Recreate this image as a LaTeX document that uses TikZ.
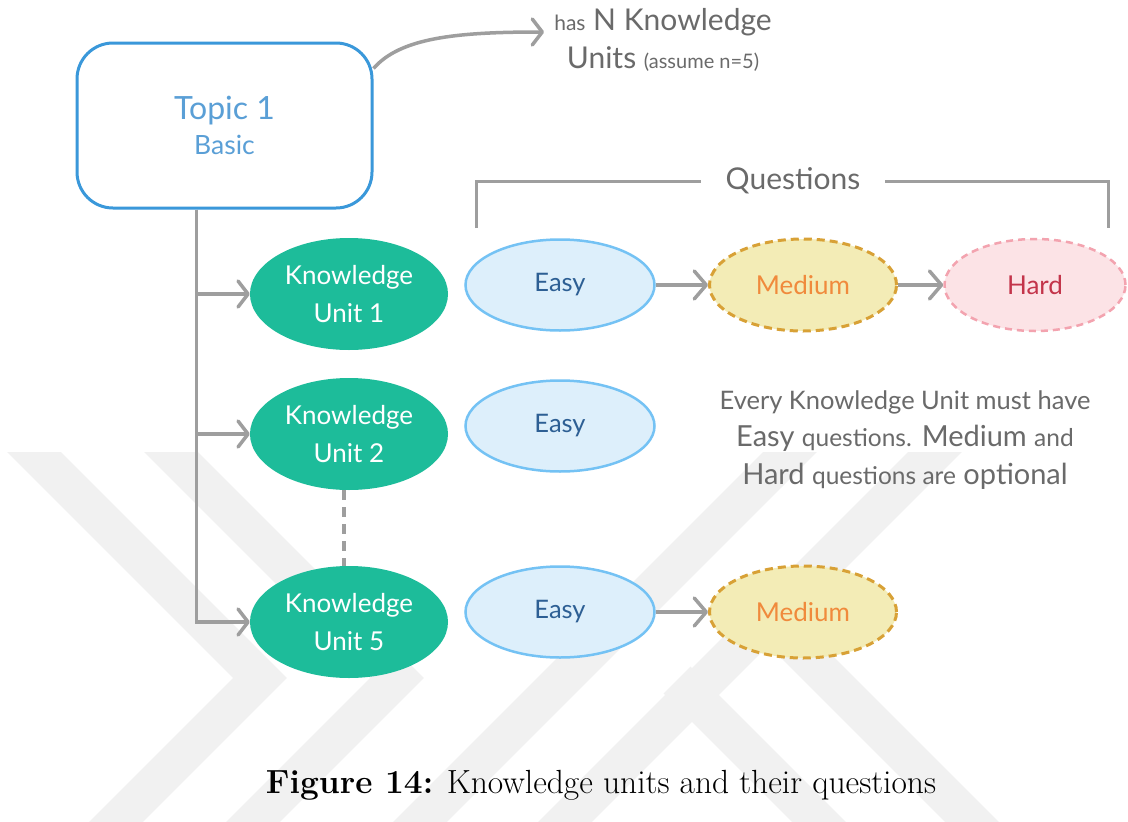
\documentclass[tikz,border=0pt]{standalone}
\usepackage{fontspec}
\newfontfamily\lato{Lato}
\usetikzlibrary{shapes.geometric,arrows.meta,calc}

\definecolor{linegray}{HTML}{9E9E9E}
\definecolor{textgray}{HTML}{6A6A6A}
\definecolor{wmgray}{HTML}{F1F1F1}
\definecolor{topicblue}{HTML}{3A98DA}
\definecolor{topictext}{HTML}{5A9FD6}
\definecolor{kugreen}{HTML}{1DBC9A}
\definecolor{easyfill}{HTML}{DDEFFB}
\definecolor{easyline}{HTML}{74C2F4}
\definecolor{easytext}{HTML}{2D5F94}
\definecolor{medfill}{HTML}{F3ECB6}
\definecolor{medline}{HTML}{D8A136}
\definecolor{medtext}{HTML}{F08A3C}
\definecolor{hardfill}{HTML}{FCE3E6}
\definecolor{hardline}{HTML}{F3A3AF}
\definecolor{hardtext}{HTML}{C3344A}

\newcommand{\fsz}[1]{\fontsize{#1}{#1}\selectfont}

\tikzset{
  wmband/.style={draw=wmgray, line width=38pt, line join=miter},
  topicbox/.style={draw=topicblue, line width=3pt, rounded corners=36pt, fill=white,
    minimum width=295pt, minimum height=165pt, align=center, text=topictext, font=\lato},
  kunode/.style={ellipse, fill=kugreen, minimum width=198pt, minimum height=112pt,
    inner sep=0pt, align=center, text=white, font=\lato\fsz{26}},
  easynode/.style={ellipse, fill=easyfill, draw=easyline, line width=2.5pt,
    minimum width=189pt, minimum height=91pt, inner sep=0pt, text=easytext, font=\lato\fsz{25.5}},
  mednode/.style={ellipse, fill=medfill, draw=medline, line width=3pt,
    dash pattern=on 8pt off 5pt, minimum width=187pt, minimum height=92pt,
    inner sep=0pt, text=medtext, font=\lato\fsz{26}},
  hardnode/.style={ellipse, fill=hardfill, draw=hardline, line width=2.5pt,
    dash pattern=on 7pt off 5pt, minimum width=181pt, minimum height=92pt,
    inner sep=0pt, text=hardtext, font=\lato\fsz{26}},
  grayline/.style={draw=linegray, line width=3.5pt},
  flow/.style={grayline, -{Straight Barb[length=10pt,width=26pt,round]}},
  bigflow/.style={grayline, -{Straight Barb[length=12pt,width=28pt,round]}},
  note/.style={text=textgray, font=\lato, align=center, inner sep=0pt}
}

\begin{document}
\begin{tikzpicture}[x=1pt,y=-1pt]
\useasboundingbox (0,0) rectangle (1128,822);
\fill[white] (0,0) rectangle (1128,822);

% faint background emblem
\begin{scope}
  \clip (0,452) rectangle (1128,822);
  \draw[wmband] (4,422) -- (260,678) -- (86,852);
  \draw[wmband] (141,422) -- (397,678) -- (223,852);
  \draw[wmband] (382,860) -- (820,422);
  \draw[wmband] (527,860) -- (965,422);
  \draw[wmband] (677,680) -- (855,858);
  \draw[wmband] (770,620) -- (1000,850);
\end{scope}

% topic and its knowledge units
\node[topicbox] (topic) at (224.5,125.5)
  {\fsz{32}Topic 1\\[9pt]\fsz{26.5}Basic};

\node[kunode] (ku1) at (349,294) {Knowledge\\[12pt]Unit 1};
\node[kunode] (ku2) at (349,434) {Knowledge\\[12pt]Unit 2};
\node[kunode] (ku5) at (349,622) {Knowledge\\[12pt]Unit 5};

% question difficulty levels
\node[easynode] (e1) at (560,285) {Easy};
\node[mednode]  (m1) at (803,285) {Medium};
\node[hardnode] (h1) at (1035,285) {Hard};
\node[easynode] (e2) at (560,426) {Easy};
\node[easynode] (e5) at (560,612) {Easy};
\node[mednode]  (m5) at (803,612) {Medium};

% annotations
\node[note] (hasN) at (663,40)
  {\fsz{30}{\fsz{21}has} N Knowledge\\[9pt]\fsz{30}Units {\fsz{20}(assume n=5)}};
\coordinate (hasend) at (544,32);

\node[note, inner xsep=25pt] (qlabel) at (793,181) {\fsz{30}Questions};
\coordinate (qleft) at (476,228);
\coordinate (qright) at (1108,228);

\node[note] (rule) at (905,440)
  {\fsz{25.5}Every Knowledge Unit must have\\[10pt]
   \fsz{29}Easy {\fsz{24.5}questions.} Medium {\fsz{24.5}and}\\[10pt]
   \fsz{29}Hard {\fsz{24.5}questions are} optional};

\node[inner sep=0pt, font=\fsz{33.5}] (caption) at (601,785)
  {\textbf{Figure 14:} Knowledge units and their questions};

% connectors
\draw[flow] ($(topic.north east)+(0,27)$)
  .. controls (400,38) and (455,32) .. (hasend);

\draw[flow] ($(topic.south)+(-28,0)$) |- (ku1.west);
\draw[flow] ($(topic.south)+(-28,0)$) |- (ku2.west);
\draw[flow] ($(topic.south)+(-28,0)$) |- (ku5.west);

\draw[grayline, dash pattern=on 10pt off 7pt] ([xshift=-5pt]ku2.south) -- ([xshift=-5pt]ku5.north);

\draw[bigflow] (e1.east) -- (m1.west);
\draw[bigflow] (m1.east) -- (h1.west);
\draw[bigflow] (e5.east) -- (m5.west);

\draw[grayline, line width=3pt] (qleft) |- (qlabel.west);
\draw[grayline, line width=3pt] (qlabel.east) -| (qright);
\end{tikzpicture}
\end{document}
